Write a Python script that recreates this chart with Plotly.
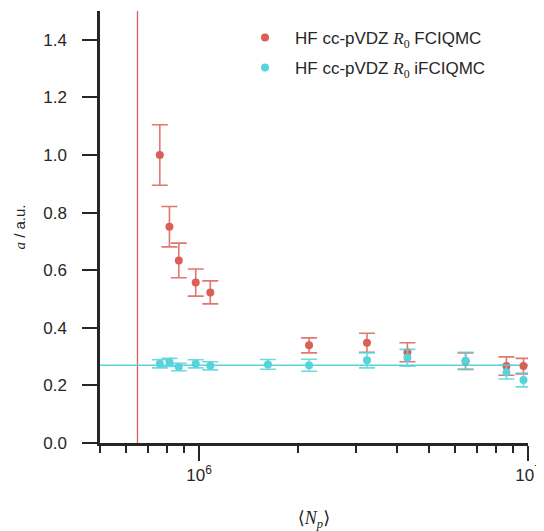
import plotly.graph_objects as go
import numpy as np

# FCIQMC (red)
red_x = [7.6e5, 8.13e5, 8.68e5, 9.77e5, 1.082e6, 2.16e6, 3.24e6, 4.3e6, 6.46e6, 8.6e6, 9.69e6]
red_y = [1.000, 0.751, 0.634, 0.557, 0.523, 0.339, 0.348, 0.315, 0.284, 0.267, 0.267]
red_err = [0.105, 0.070, 0.060, 0.047, 0.040, 0.026, 0.033, 0.033, 0.029, 0.032, 0.027]

# iFCIQMC (cyan)
cyan_x = [7.6e5, 8.13e5, 8.68e5, 9.77e5, 1.082e6, 1.62e6, 2.16e6, 3.24e6, 4.3e6, 6.46e6, 8.6e6, 9.69e6]
cyan_y = [0.275, 0.280, 0.264, 0.275, 0.268, 0.273, 0.270, 0.287, 0.296, 0.286, 0.246, 0.219]
cyan_err = [0.014, 0.014, 0.013, 0.014, 0.014, 0.017, 0.021, 0.026, 0.029, 0.029, 0.024, 0.024]

vline_x = 6.5e5
hline_y = 0.27

yticks = [0.0, 0.2, 0.4, 0.6, 0.8, 1.0, 1.2, 1.4]
xticks = [1e6, 1e7]
xticktext = ["10<sup>6</sup>", "10<sup>7</sup>"]
xminor = [5e5, 6e5, 7e5, 8e5, 9e5, 2e6, 3e6, 4e6, 5e6, 6e6, 7e6, 8e6, 9e6]

RED = "#db5f57"
CYAN = "#57d3db"
DARK = "#262626"
FONT = "Liberation Sans, Arial, sans-serif"
SERIF = "font-family:'Liberation Serif','DejaVu Serif',serif"

R0 = f"<span style=\"{SERIF}\"><i>R</i><sub>0</sub></span>"

fig = go.Figure()
fig.add_trace(go.Scatter(
    x=red_x, y=red_y, mode="markers",
    marker=dict(color=RED, size=8),
    error_y=dict(type="data", array=red_err, color="rgba(219,95,87,0.85)", thickness=1.6, width=8),
    name=f"HF cc-pVDZ {R0} FCIQMC", legend="legend", showlegend=True,
))
fig.add_trace(go.Scatter(
    x=cyan_x, y=cyan_y, mode="markers",
    marker=dict(color=CYAN, size=8),
    error_y=dict(type="data", array=cyan_err, color="rgba(87,211,219,0.85)", thickness=1.6, width=8),
    name=f"HF cc-pVDZ {R0} iFCIQMC", legend="legend2", showlegend=True,
))

fig.add_shape(type="line", xref="x", yref="paper", x0=vline_x, x1=vline_x, y0=0, y1=1,
              line=dict(color=RED, width=1.3), layer="below")
fig.add_shape(type="line", xref="paper", yref="y", x0=0, x1=1, y0=hline_y, y1=hline_y,
              line=dict(color=CYAN, width=1.3), layer="below")

# page body adds an 8px margin, so the figure is drawn 8px smaller
W, H = 536, 523
legend_common = dict(font=dict(family=FONT, size=17, color=DARK), bgcolor="rgba(0,0,0,0)",
                     xanchor="left", yanchor="middle", visible=True, itemwidth=50)
fig.update_layout(
    width=W, height=H,
    margin=dict(l=92, r=16, t=3, b=88, autoexpand=False),
    plot_bgcolor="white", paper_bgcolor="white",
    showlegend=True,
    font=dict(family=FONT, size=17, color=DARK),
    legend=dict(x=(235 - 100) / 428, y=(443 - 38) / 432, **legend_common),
    legend2=dict(x=(235 - 100) / 428, y=(443 - 68) / 432, **legend_common),
    xaxis=dict(
        type="log", range=[np.log10(5e5), 7], automargin=False,
        tickvals=xticks, ticktext=xticktext,
        ticks="outside", ticklen=15, tickwidth=2, tickcolor=DARK,
        showline=True, linewidth=2.5, linecolor=DARK,
        showgrid=False, zeroline=False,
        minor=dict(tickvals=xminor, ticks="outside", ticklen=7, tickwidth=1.5, tickcolor=DARK, showgrid=False),
        tickfont=dict(size=17, color=DARK),
        title=dict(text=f"<span style=\"{SERIF}\">⟨<i>N</i><sub><i>p</i></sub>⟩</span>",
                   font=dict(size=18, color=DARK), standoff=30),
    ),
    yaxis=dict(
        range=[0, 1.5], automargin=False,
        tickvals=yticks, tickformat=".1f",
        ticks="outside", ticklen=15, tickwidth=2, tickcolor=DARK,
        showline=True, linewidth=2.5, linecolor=DARK,
        showgrid=False, zeroline=False,
        tickfont=dict(size=17, color=DARK),
        ticklabelstandoff=12,
        title=dict(text=f"<span style=\"{SERIF}\"><i>a</i></span> / a.u.", font=dict(size=15, color=DARK), standoff=14),
    ),
)

fig.write_html("out.html")
